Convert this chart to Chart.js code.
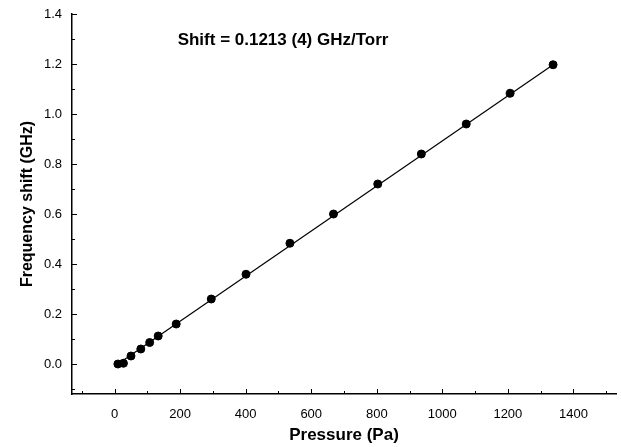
<!DOCTYPE html>
<html>
<head>
<meta charset="utf-8">
<script src="https://cdn.jsdelivr.net/npm/chart.js@4"></script>
<style>
  html, body { margin: 0; padding: 0; background: #fff; }
  #wrap { width: 621px; height: 447px; }
</style>
</head>
<body>
<div id="wrap"><canvas id="chart"></canvas></div>
<script>
// Data
const pressure = [10, 27, 50, 80, 107, 133, 188, 295, 401, 535, 668, 803, 936, 1073, 1207, 1338];
const shift = [0.0, 0.003, 0.032, 0.06, 0.086, 0.112, 0.16, 0.26, 0.359, 0.483, 0.60, 0.72, 0.84, 0.96, 1.083, 1.197];

// fitted line end points
const fitX = [10, 1338];
const fitY = [0.0, 1.197];

// axis ticks
const xTicks = [0, 200, 400, 600, 800, 1000, 1200, 1400];
const xMinor = [-100, 100, 300, 500, 700, 900, 1100, 1300, 1500];
const yTicks = [0.0, 0.2, 0.4, 0.6, 0.8, 1.0, 1.2, 1.4];
const yMinor = [-0.1, 0.1, 0.3, 0.5, 0.7, 0.9, 1.1, 1.3];

const noteText = 'Shift = 0.1213 (4) GHz/Torr';
const notePos = { x: 514, y: 1.296 };

const FONT = '"Liberation Sans", Arial, Helvetica, sans-serif';

// inward tick marks + annotation text
const extras = {
    id: 'extras',
    afterDraw(chart) {
        const ctx = chart.ctx;
        const xs = chart.scales.x;
        const ys = chart.scales.y;
        const area = chart.chartArea;
        ctx.save();
        ctx.strokeStyle = '#000';
        ctx.lineWidth = 1;
        ctx.beginPath();
        xTicks.forEach(v => {
            const px = Math.round(xs.getPixelForValue(v)) + 0.5;
            ctx.moveTo(px, area.bottom);
            ctx.lineTo(px, area.bottom - 5);
        });
        xMinor.forEach(v => {
            const px = Math.round(xs.getPixelForValue(v)) + 0.5;
            ctx.moveTo(px, area.bottom);
            ctx.lineTo(px, area.bottom - 3);
        });
        yTicks.forEach(v => {
            const py = Math.round(ys.getPixelForValue(v)) + 0.5;
            ctx.moveTo(area.left, py);
            ctx.lineTo(area.left + 5, py);
        });
        yMinor.forEach(v => {
            const py = Math.round(ys.getPixelForValue(v)) + 0.5;
            ctx.moveTo(area.left, py);
            ctx.lineTo(area.left + 3, py);
        });
        ctx.stroke();

        ctx.fillStyle = '#000';
        ctx.font = 'bold 17px ' + FONT;
        ctx.textAlign = 'center';
        ctx.textBaseline = 'middle';
        ctx.fillText(noteText, xs.getPixelForValue(notePos.x), ys.getPixelForValue(notePos.y));
        ctx.restore();
    }
};

new Chart(document.getElementById('chart'), {
    type: 'scatter',
    data: {
        datasets: [
            {
                label: 'fit',
                type: 'line',
                data: fitX.map((x, i) => ({ x: x, y: fitY[i] })),
                borderColor: '#000',
                borderWidth: 1.2,
                pointRadius: 0,
                fill: false,
                order: 2
            },
            {
                label: 'data',
                data: pressure.map((x, i) => ({ x: x, y: shift[i] })),
                backgroundColor: '#000',
                borderColor: '#000',
                pointRadius: 4,
                pointHoverRadius: 4,
                order: 1
            }
        ]
    },
    options: {
        responsive: true,
        maintainAspectRatio: false,
        animation: false,
        events: [],
        layout: { padding: { top: 14, right: 1, left: 0, bottom: 0 } },
        plugins: {
            legend: { display: false },
            tooltip: { enabled: false }
        },
        scales: {
            x: {
                type: 'linear',
                min: -130,
                max: 1530,
                afterFit: s => { s.height = 53; },
                afterBuildTicks: s => { s.ticks = xTicks.map(v => ({ value: v })); },
                grid: { display: false },
                border: { display: true, color: '#000', width: 1.5 },
                ticks: {
                    color: '#000',
                    padding: 5,
                    maxRotation: 0,
                    font: { family: FONT, size: 13 },
                    callback: v => String(v)
                },
                title: {
                    display: true,
                    text: 'Pressure (Pa)',
                    color: '#000',
                    padding: { top: 0, bottom: 1 },
                    font: { family: FONT, size: 17, weight: 'bold' }
                }
            },
            y: {
                type: 'linear',
                min: -0.12,
                max: 1.4,
                afterFit: s => { s.width = 72; },
                afterBuildTicks: s => { s.ticks = yTicks.map(v => ({ value: v })); },
                grid: { display: false },
                border: { display: true, color: '#000', width: 1.5 },
                ticks: {
                    color: '#000',
                    padding: 2,
                    font: { family: FONT, size: 13 },
                    callback: v => Number(v).toFixed(1)
                },
                title: {
                    display: true,
                    text: 'Frequency shift (GHz)',
                    color: '#000',
                    padding: { top: 18, bottom: 0 },
                    font: { family: FONT, size: 16, weight: 'bold' }
                }
            }
        }
    },
    plugins: [extras]
});
</script>
</body>
</html>
